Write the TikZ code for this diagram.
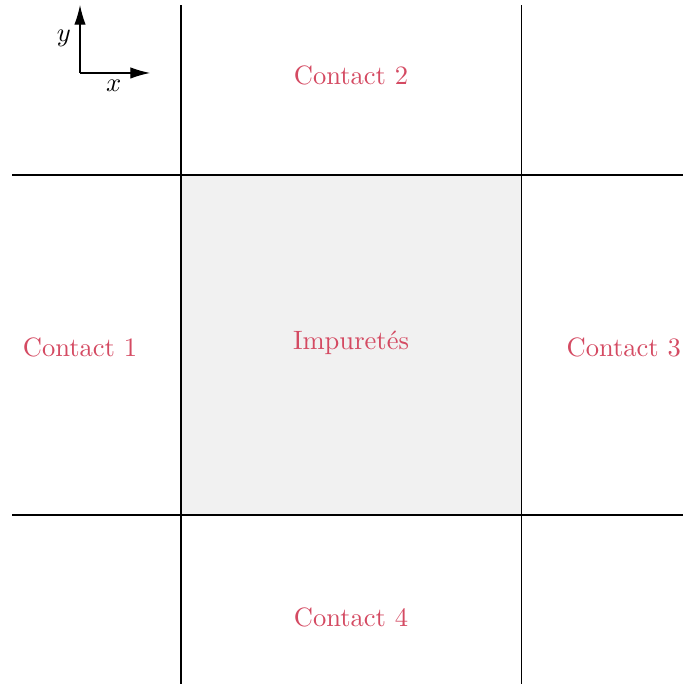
\documentclass[tikz,border=0pt]{standalone}
\usepackage{xcolor}
\definecolor{contactred}{HTML}{D44A62}
\usetikzlibrary{positioning,arrows.meta}

\begin{document}
\begin{tikzpicture}[
  lbl/.style={text=contactred, font=\normalsize},
  grid/.style={thin, draw=black},
  axis/.style={-{Latex[length=2.6mm,width=1.5mm]}, thin},
]
\useasboundingbox (-2.396,-2.237) rectangle (6.644,6.816);
\fill[gray!11] (0,0) rectangle (4.5,4.5);
% ends of the grid lines
\coordinate (l1) at (-2.237,0);   \coordinate (r1) at (6.644,0);
\coordinate (l2) at (-2.237,4.5); \coordinate (r2) at (6.644,4.5);
\coordinate (b1) at (0,-2.237);   \coordinate (t1) at (0,6.75);
\coordinate (b2) at (4.5,-2.237); \coordinate (t2) at (4.5,6.75);
\draw[grid] (l1) -- (r1);
\draw[grid] (l2) -- (r2);
\draw[grid] (b1) -- (t1);
\draw[grid] (b2) -- (t2);
\node[lbl] (imp) at (2.25,2.28)  {Impuretés};
\node[lbl] (c1)  at (-1.337,2.22) {Contact 1};
\node[lbl] (c2)  at (2.25,5.82)  {Contact 2};
\node[lbl] (c3)  at (5.86,2.22)  {Contact 3};
\node[lbl] (c4)  at (2.25,-1.35) {Contact 4};
% axes
\coordinate (o)  at (-1.337,5.85);
\coordinate (ox) at (-0.41,5.85);
\coordinate (oy) at (-1.337,6.75);
\draw[axis] (o) -- (ox);
\draw[axis] (o) -- (oy);
\node (xl) at (-0.89,5.68) {$x$};
\node (yl) at (-1.55,6.31) {$y$};
\end{tikzpicture}
\end{document}
